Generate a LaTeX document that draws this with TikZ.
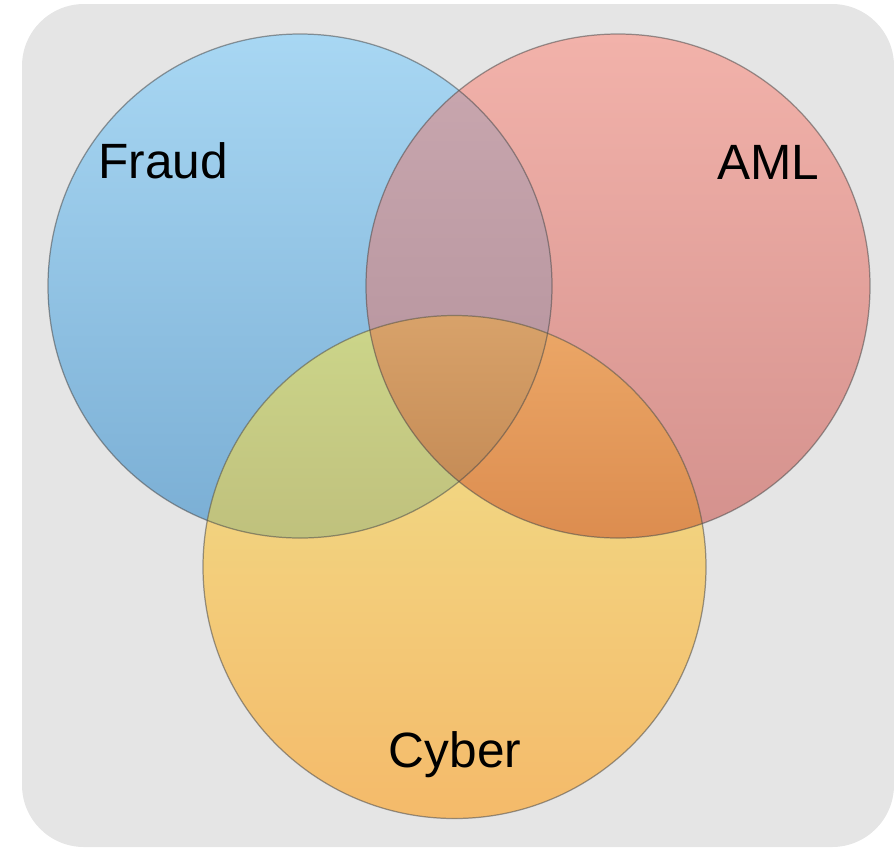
\documentclass[tikz,border=0pt]{standalone}
\usepackage{fontspec}
\setmainfont{Liberation Sans}
% panel and circle colours
\definecolor{panelgray}{HTML}{E5E5E5}
\definecolor{fraudT}{HTML}{A8D7F3}
\definecolor{fraudB}{HTML}{7AAED4}
\definecolor{amlT}{HTML}{F2B2AA}
\definecolor{amlB}{HTML}{D4918D}
\definecolor{cyberT}{HTML}{F1E28C}
\definecolor{cyberB}{HTML}{F4BA6A}
% overlap colours
\definecolor{faT}{HTML}{CAA8B0}
\definecolor{faB}{HTML}{B08E98}
\definecolor{fcT}{HTML}{CCD68A}
\definecolor{fcB}{HTML}{B0A66C}
\definecolor{acT}{HTML}{ECA868}
\definecolor{acB}{HTML}{C86A30}
\definecolor{allT}{HTML}{D8A26A}
\definecolor{allB}{HTML}{A06030}
\begin{document}
\begin{tikzpicture}[x=0.01cm, y=0.01cm,
  rim/.style={draw=black!70, draw opacity=0.55, line width=0.35pt},
  lbl/.style={font=\fontsize{14.1}{16}\selectfont, anchor=base, inner sep=0pt}]
\useasboundingbox (0,0) rectangle (894,847);
% rounded panel
\fill[panelgray, rounded corners=0.62cm] (22,0) rectangle (894,843);
% circle centres
\coordinate (fc) at (300,561);
\coordinate (ac) at (618,561);
\coordinate (cc) at (454.5,280);
% single sets
\shade[top color=fraudT, bottom color=fraudB] (fc) circle[radius=252];
\shade[top color=amlT, bottom color=amlB] (ac) circle[radius=252];
% Fraud & AML
\begin{scope}
  \clip (fc) circle[radius=252];
  \shade[top color=faT, bottom color=faB] (ac) circle[radius=252];
\end{scope}
\shade[top color=cyberT, bottom color=cyberB] (cc) circle[radius=251.5];
% Fraud & Cyber
\begin{scope}
  \clip (fc) circle[radius=252];
  \shade[top color=fcT, bottom color=fcB] (cc) circle[radius=251.5];
\end{scope}
% AML & Cyber
\begin{scope}
  \clip (ac) circle[radius=252];
  \shade[top color=acT, bottom color=acB] (cc) circle[radius=251.5];
\end{scope}
% all three
\begin{scope}
  \clip (fc) circle[radius=252];
  \clip (ac) circle[radius=252];
  \shade[top color=allT, bottom color=allB] (cc) circle[radius=251.5];
\end{scope}
% outlines
\draw[rim] (fc) circle[radius=252];
\draw[rim] (ac) circle[radius=252];
\draw[rim] (cc) circle[radius=251.5];
% labels
\node[lbl] (fraud) at (163,669) {Fraud};
\node[lbl] (aml) at (768,668) {AML};
\node[lbl] (cyber) at (455,80) {Cyber};
\end{tikzpicture}
\end{document}
